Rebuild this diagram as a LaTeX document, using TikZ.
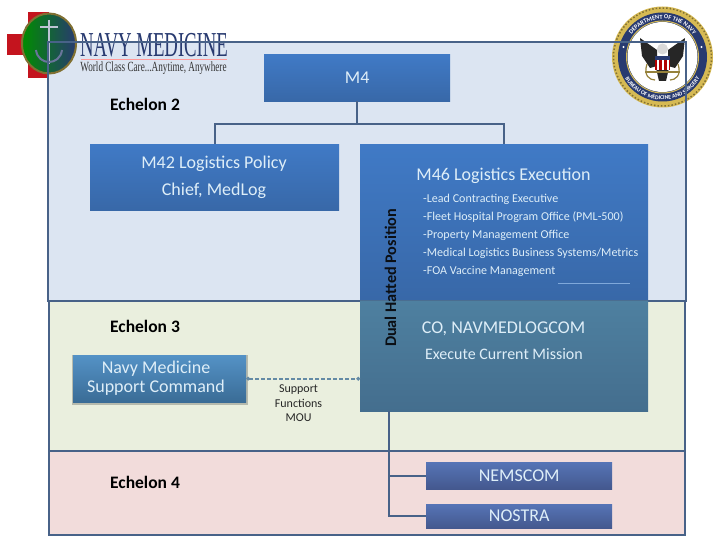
\documentclass[tikz,border=0pt]{standalone}
\usepackage{fontspec}
\setmainfont{Carlito}
\newfontfamily\logofont{Liberation Serif}
\definecolor{navyline}{RGB}{72,98,136}
\definecolor{bandblue}{RGB}{220,229,242}
\definecolor{bandgreen}{RGB}{234,239,222}
\definecolor{bandpink}{RGB}{242,220,219}
\definecolor{boxtop}{RGB}{64,122,198}
\definecolor{boxbot}{RGB}{56,104,168}
\definecolor{logtop}{RGB}{78,128,160}
\definecolor{logbot}{RGB}{68,110,142}
\definecolor{suptop}{RGB}{84,146,198}
\definecolor{supbot}{RGB}{58,108,150}
\definecolor{subtop}{RGB}{86,116,182}
\definecolor{subbot}{RGB}{68,88,142}
\definecolor{textlight}{RGB}{222,238,248}
\definecolor{logonavy}{RGB}{40,58,112}
\definecolor{sealgold}{RGB}{214,186,84}
\definecolor{crossred}{RGB}{196,20,30}
\definecolor{dashline}{RGB}{100,138,165}
\usetikzlibrary{arrows.meta,positioning,calc,decorations.text}
\tikzset{
  band/.style={rectangle,draw=navyline,line width=2pt,fill=#1,minimum width=636pt,
               anchor=north west,inner sep=0pt},
  box/.style={rectangle,top color=boxtop,bottom color=boxbot,text=textlight,
              font=\fontsize{#1}{#1}\selectfont,align=center,inner sep=0pt,anchor=north west},
  box/.default=18,
  subbox/.style={box=18,top color=subtop,bottom color=subbot,minimum width=186pt},
  boxtext/.style={text=textlight,font=\fontsize{#1}{#1}\selectfont,inner sep=0pt},
  boxtext/.default=18,
  link/.style={draw=navyline,line width=2pt},
  echelon/.style={font=\fontsize{17.5}{17.5}\selectfont\bfseries,text=black,inner sep=0pt},
  duty/.style={font=\fontsize{12.05}{12.05}\selectfont,text=textlight,inner sep=0pt,anchor=west},
}

\begin{document}
\begin{tikzpicture}[x=1pt,y=-1pt]
  \useasboundingbox (0,0) rectangle (720,540);

  % echelon bands
  \node[band=bandblue,draw=none,minimum height=258pt] (band2) at (48,42) {};
  \node[band=bandgreen,minimum height=150pt] (band3) at (48,300) {};
  \node[band=bandpink,minimum height=84pt] (band4) at (48,450) {};

  % logo left
  \fill[crossred] (28,12) rectangle (49,78);
  \fill[crossred] (7,34) rectangle (49,55);
  \shade[left color=green!55!black,middle color=white!70!green,right color=logonavy,
         draw=sealgold!60!black,line width=2pt] (49,43.5) ellipse (27 and 30);
  \draw[white!70!logonavy,line width=2pt] (49,20) -- (49,64);
  \draw[white!70!logonavy,line width=2pt] (40,27) -- (58,27);
  \draw[logonavy!70,line width=2pt] (36,50) .. controls (38,66) and (60,66) .. (62,50);
  \node[font=\logofont\fontsize{35}{35}\selectfont,text=logonavy,xscale=0.535,inner sep=0pt]
    (logotitle) at (154,45) {NAVY MEDICINE};
  \draw[red!40!white,line width=0.8pt] (81,59.5) -- (227,59.5);
  \node[font=\logofont\fontsize{14}{14}\selectfont,text=black!80,xscale=0.655,inner sep=0pt]
    (logotag) at (153.5,68) {World Class Care...Anytime, Anywhere};

  % seal right
  \fill[sealgold] (662.5,57) circle (50.5);
  \draw[sealgold!60!black,line width=1.5pt,dash pattern=on 1.5pt off 2pt] (662.5,57) circle (49);
  \fill[logonavy] (662.5,57) circle (44.5);
  \fill[white] (662.5,57) circle (35);
  \draw[sealgold,line width=1pt] (662.5,57) circle (36);
  \path[postaction={decorate},decoration={text along path,text align=center,
        text={|\fontsize{6.2}{6.2}\selectfont\bfseries\color{white}|DEPARTMENT OF THE NAVY}}]
    (624.5,57) arc[start angle=180,end angle=360,radius=38];
  \path[postaction={decorate},decoration={text along path,text align=center,
        text={|\fontsize{5.8}{5.8}\selectfont\bfseries\color{white}|BUREAU OF MEDICINE AND SURGERY}}]
    (619.5,57) arc[start angle=180,end angle=0,radius=43];
  \fill[white] (623.5,47) circle (1.2);
  \fill[white] (701.5,47) circle (1.2);
  \fill[black!85] (640,38) -- (657,50) -- (657,66) -- (650,68) -- (642,56) -- cycle;
  \fill[black!85] (685,38) -- (668,50) -- (668,66) -- (675,68) -- (683,56) -- cycle;
  \fill[black!85] (656,68) -- (669,68) -- (666,81) -- (659,81) -- cycle;
  \fill[black!15] (662.5,49) circle (5.5);
  \fill[red!70!black] (655,56) rectangle (670,70);
  \foreach \sx in {658,663,668}{
    \fill[white] (\sx-1,60) rectangle (\sx+1,70);
  }
  \fill[logonavy] (655,56) rectangle (670,60);
  \draw[sealgold!70!black,line width=1.2pt] (645,72) -- (680,72);
  \draw[sealgold!70!black,line width=1.2pt] (647,64) .. controls (643,76) and (650,80) .. (655,80);
  \draw[sealgold!70!black,line width=1.2pt] (678,64) .. controls (682,76) and (675,80) .. (670,80);

  % frame over logos
  \draw[link] (band2.south west) |- (band2.north east) -- (band2.south east);

  % boxes
  \node[box=18,minimum width=186pt,minimum height=47pt] (m4) at (264,54) {M4};
  \node[box,minimum width=249pt,minimum height=66pt] (m42) at (90,144) {};
  \node[box,minimum width=288pt,minimum height=156pt] (m46) at (360,144) {};
  \node[box,top color=logtop,bottom color=logbot,minimum width=288pt,minimum height=111pt]
    (medlog) at (360,300) {};
  \node[rectangle,fill=black,opacity=0.22,anchor=north west,inner sep=0pt,
        minimum width=176pt,minimum height=50pt] (supportshade) at (71.5,355) {};
  \node[box,top color=suptop,bottom color=supbot,minimum width=173pt,minimum height=47pt]
    (support) at (73,355) {};
  \node[subbox,minimum height=27pt] (nemscom) at (426,462) {NEMSCOM};
  \node[subbox,minimum height=24pt] (nostra) at (426,504) {NOSTRA};
  \draw[navyline,opacity=0.6,line width=1.5pt] (m46.south west) -- (m46.south east);

  % text in boxes
  \node[boxtext] (m42a) at (214,164) {M42 Logistics Policy};
  \node[boxtext] (m42b) at (214,191) {Chief, MedLog};
  \node[boxtext] (m46t) at (503.5,176) {M46 Logistics Execution};
  \foreach \txt/\y/\nm in {{-Lead Contracting Executive}/199.5/a,
    {-Fleet Hospital Program Office (PML-500)}/217.5/b,
    {-Property Management Office}/235.5/c,
    {-Medical Logistics Business Systems/Metrics}/253.5/d,
    {-FOA Vaccine Management}/271.5/e}{
    \node[duty] (duty\nm) at (423,\y) {\txt};
  }
  \node[boxtext] (colog) at (503.5,329) {CO, NAVMEDLOGCOM};
  \node[boxtext=16] (mission) at (504,354.5) {Execute Current Mission};
  \node[boxtext,align=center,font=\fontsize{18}{19}\selectfont] (supporttext) at (156,378)
    {Navy Medicine\\Support Command};

  % labels
  \node[echelon] (ech2) at (145,104.5) {Echelon 2};
  \node[echelon] (ech3) at (145,326.5) {Echelon 3};
  \node[echelon] (ech4) at (145,482.5) {Echelon 4};
  \node[font=\fontsize{16.2}{16.2}\selectfont\bfseries,rotate=90,text=black!85!navyline,inner sep=0pt]
    (dual) at (390.5,278) {Dual Hatted Position};
  \node[font=\fontsize{12}{14.5}\selectfont,align=center,text=black!85,inner sep=0pt]
    (mou) at (298.5,403.5) {Support\\Functions\\MOU};

  % connectors
  \draw[link] (m4.south) -- ++(0,23) coordinate (split);
  \draw[link] (m42.north) |- (split) -| (m46.north);
  \draw[dashline,line width=2pt,dash pattern=on 4pt off 2pt,{Circle[length=3.5pt]}-{Circle[length=3.5pt]}]
    (support.east) -- (support.east -| medlog.west);
  \coordinate (drop) at ($(medlog.south west)+(29,0)$);
  \draw[link] (drop) |- (nemscom.west);
  \draw[link] (drop) |- (nostra.west);
  \draw[boxtop!60!textlight,line width=0.8pt] (558,283) -- (630,283);
\end{tikzpicture}
\end{document}
